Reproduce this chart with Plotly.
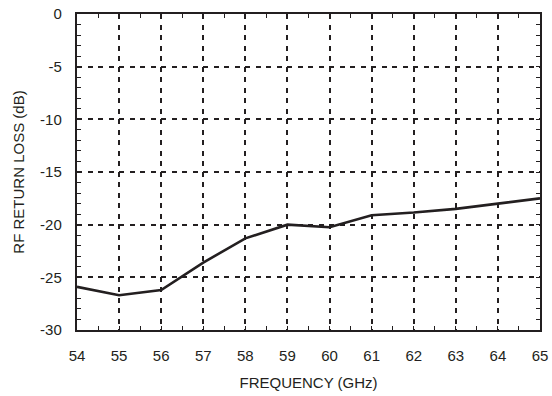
import plotly.graph_objects as go

freq_ghz = [54, 55, 56, 57, 58, 59, 60, 61, 62, 63, 64, 65]
return_loss_db = [-25.9, -26.7, -26.2, -23.6, -21.3, -20.0, -20.25, -19.1, -18.85, -18.5, -18.0, -17.5]

x_ticks = list(range(54, 66))
y_ticks = [0, -5, -10, -15, -20, -25, -30]
y_tick_text = [str(v) for v in y_ticks]

ink = "#231f20"
font_family = "Liberation Sans, Arial, Helvetica, sans-serif"

fig = go.Figure()
fig.add_trace(go.Scatter(
    x=freq_ghz, y=return_loss_db, mode="lines",
    line=dict(color=ink, width=2.6), showlegend=False,
))

fig.update_layout(
    width=552, height=396, autosize=False,
    margin=dict(l=77, r=12, t=14, b=66, autoexpand=False),
    paper_bgcolor="white", plot_bgcolor="white",
    font=dict(family=font_family, size=15, color=ink),
)
fig.update_xaxes(
    range=[54, 65], tickvals=x_ticks, ticktext=[str(v) for v in x_ticks],
    automargin=False,
    showgrid=True, gridcolor=ink, griddash="5px,5.5px", gridwidth=1.8,
    showline=True, linecolor=ink, linewidth=2.4, mirror="ticks",
    ticks="inside", ticklen=0, ticklabelstandoff=11,
    minor=dict(dtick=0.5, ticks="inside", ticklen=4, tickcolor=ink, tickwidth=1.2, showgrid=False),
    zeroline=False,
    title=dict(text="FREQUENCY (GHz)", standoff=14, font=dict(size=15)),
    tickfont=dict(size=15),
)
fig.update_yaxes(
    range=[-30, 0], tickvals=y_ticks, ticktext=y_tick_text,
    automargin=False,
    showgrid=True, gridcolor=ink, griddash="5px,5.5px", gridwidth=1.8,
    showline=True, linecolor=ink, linewidth=2.4, mirror="ticks",
    ticks="inside", ticklen=0, ticklabelstandoff=10,
    minor=dict(dtick=1, ticks="inside", ticklen=4, tickcolor=ink, tickwidth=1.2, showgrid=False),
    zeroline=False,
    title=dict(text="RF RETURN LOSS (dB)", standoff=12, font=dict(size=15)),
    tickfont=dict(size=15),
)

fig.write_html(
    "out.html",
    config={"displayModeBar": False},
    post_script="document.body.style.margin='0';document.body.style.overflow='hidden';",
)
